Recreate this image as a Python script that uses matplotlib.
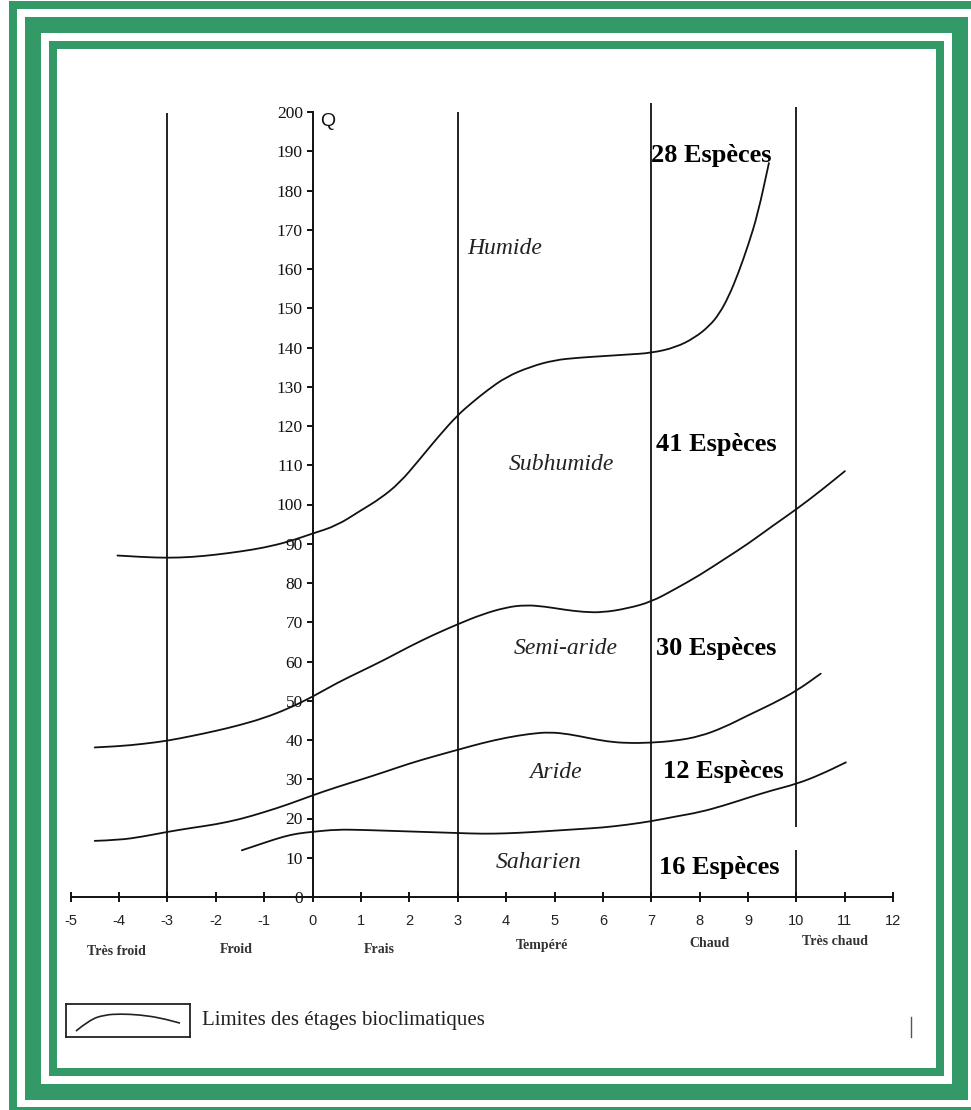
import matplotlib
matplotlib.use("Agg")
import matplotlib.pyplot as plt
from matplotlib.patches import Rectangle, PathPatch
from matplotlib.path import Path
from matplotlib.lines import Line2D

# ---------------- data ----------------
# Boundary curves (Emberger climagram): m (°C) -> Q
c1_x = [-4.03, -3.5, -3.0, -2.5, -2.0, -1.5, -1.0, -0.5, 0.0, 0.5, 1.0, 1.4, 1.8, 2.2, 2.6,
        3.0, 3.3, 3.6, 4.0, 4.5, 5.0, 5.5, 6.0, 6.5, 7.0, 7.5, 7.9, 8.2, 8.4, 8.6, 8.8, 9.0, 9.2, 9.43]
c1_y = [87.0, 86.6, 86.4, 86.6, 87.2, 88.0, 89.0, 90.5, 92.6, 94.6, 98.5, 101.5, 105.5, 111.3, 117.3,
        122.8, 126.0, 129.0, 132.5, 135.1, 136.8, 137.4, 137.8, 138.2, 138.6, 140.0, 142.5, 145.5, 148.5,
        153.0, 159.0, 166.0, 174.0, 187.0]

c2_x = [-4.5, -4.0, -3.5, -3.0, -2.5, -2.0, -1.5, -1.0, -0.5, 0.0, 0.5, 1.0, 1.5, 2.0, 2.5, 3.0,
        3.5, 4.0, 4.4, 4.8, 5.2, 5.6, 6.0, 6.5, 7.0, 7.5, 8.0, 8.5, 9.0, 9.5, 10.0, 10.5, 11.0]
c2_y = [38.1, 38.4, 39.0, 39.8, 41.0, 42.3, 43.8, 45.6, 48.0, 51.0, 54.5, 57.5, 60.5, 63.8, 66.8, 69.5,
        72.0, 73.8, 74.4, 74.0, 73.2, 72.6, 72.5, 73.5, 75.2, 78.5, 82.0, 86.0, 90.0, 94.5, 98.8, 103.5, 108.5]

c3_x = [-4.5, -4.0, -3.5, -3.0, -2.5, -2.0, -1.5, -1.0, -0.5, 0.0, 0.5, 1.0, 1.5, 2.0, 2.5, 3.0,
        3.5, 4.0, 4.5, 4.9, 5.3, 5.7, 6.1, 6.5, 7.0, 7.5, 8.0, 8.5, 9.0, 9.5, 10.0, 10.5]
c3_y = [14.3, 14.5, 15.4, 16.6, 17.6, 18.5, 19.8, 21.6, 23.6, 25.9, 28.0, 29.9, 31.9, 34.0, 35.8, 37.5,
        39.2, 40.6, 41.6, 42.0, 41.5, 40.5, 39.6, 39.2, 39.3, 39.8, 40.9, 43.2, 46.3, 49.2, 52.5, 56.9]

c4_x = [-1.46, -1.0, -0.6, -0.3, 0.0, 0.5, 1.0, 1.5, 2.0, 2.5, 3.0, 3.5, 4.0, 4.5, 5.0, 5.5, 6.0,
        6.5, 7.0, 7.5, 8.0, 8.5, 9.0, 9.5, 10.0, 10.5, 11.02]
c4_y = [11.9, 13.8, 15.4, 16.2, 16.6, 17.2, 17.1, 16.9, 16.7, 16.5, 16.3, 16.1, 16.2, 16.5, 16.9, 17.3,
        17.7, 18.4, 19.3, 20.5, 21.6, 23.3, 25.3, 27.2, 28.8, 31.2, 34.3]

# Thermal variants separators (vertical lines) and their top ends
sep_x = [-3, 3, 7, 10]
sep_top = [199.7, 200.0, 202.3, 201.3]

# Ticks
x_ticks = list(range(-5, 13))
y_ticks = list(range(0, 201, 10))

# Thermal variant names
variants = ["Très froid", "Froid", "Frais", "Tempéré", "Chaud", "Très chaud"]

# Bioclimatic zones and species counts
zones = ["Humide", "Subhumide", "Semi-aride", "Aride", "Saharien"]
species = [28, 41, 30, 12, 16]

# ---------------- layout (positions, not data) ----------------
W, H = 971, 1110
X0PX, XS = 312.5, 48.4      # pixel of m=0, px per unit
Y0PX, YS = 897.0, 3.925     # pixel of Q=0, px per unit
XL, XR = -6.0, 13.0
YB, YT = -25.0, 212.0

variant_pos = [(-4.05, -13.8), (-1.57, -13.3), (1.39, -13.3), (4.74, -12.3), (8.21, -11.8), (10.79, -11.3)]
zone_pos = [(3.97, 165.1), (5.14, 110.3), (5.23, 63.4), (5.02, 31.6), (4.67, 8.9)]
species_pos = [(7.0, 189.0), (7.1, 115.4), (7.1, 63.4), (7.25, 31.9), (7.16, 7.4)]

GREEN = "#339966"
INK = "#111111"
SERIF = ["Liberation Serif", "DejaVu Serif"]
SANS = ["Liberation Sans", "DejaVu Sans"]

fig = plt.figure(figsize=(W / 100, H / 100), dpi=100)
fig.patch.set_facecolor("white")


def px_rect(x1, y1, x2, y2, color):
    r = Rectangle((x1 / W, 1 - y2 / H), (x2 - x1) / W, (y2 - y1) / H,
                  transform=fig.transFigure, facecolor=color, edgecolor="none", zorder=-10)
    fig.add_artist(r)


# Decorative green frames
px_rect(9, 1, 1100, 1300, GREEN)
px_rect(17, 9, 1100, 1107, "white")
px_rect(25, 17, 968, 1100, GREEN)
px_rect(41, 33, 952, 1084, "white")
px_rect(49, 41, 944, 1076, GREEN)
px_rect(57, 49, 936, 1068, "white")

# Main axes placed so that data units map to reference pixels
left_px = X0PX + XL * XS
right_px = X0PX + XR * XS
top_px = Y0PX - YT * YS
bot_px = Y0PX - YB * YS
ax = fig.add_axes([left_px / W, 1 - bot_px / H, (right_px - left_px) / W, (bot_px - top_px) / H])
ax.patch.set_visible(False)
ax.set_xlim(XL, XR)
ax.set_ylim(YB, YT)

for s in ["top", "right"]:
    ax.spines[s].set_visible(False)
ax.spines["left"].set_position(("data", 0))
ax.spines["bottom"].set_position(("data", 0))
ax.spines["left"].set_bounds(0, 200)
ax.spines["bottom"].set_bounds(-5, 12)
for s in ["left", "bottom"]:
    ax.spines[s].set_linewidth(1.4)
    ax.spines[s].set_color(INK)

ax.set_xticks(x_ticks)
ax.set_xticklabels([str(v) for v in x_ticks], fontfamily=SANS, fontsize=10.5, color="#222222")
ax.set_yticks(y_ticks)
ax.set_yticklabels([str(v) for v in y_ticks], fontfamily=SERIF, fontsize=12.5, color=INK)
ax.tick_params(axis="x", direction="inout", length=7, width=1.4, pad=9, color=INK)
ax.tick_params(axis="y", direction="out", length=4, width=1.4, pad=3, color=INK)

# Vertical separators
for xv, top in zip(sep_x, sep_top):
    ax.plot([xv, xv], [0, top], color=INK, lw=1.3, solid_capstyle="butt", zorder=2)

# white patch (erased area in the scan) interrupting the x=10 line
ax.add_patch(Rectangle((8.6, 12.0), 2.15, 5.8, facecolor="white", edgecolor="none", zorder=3))


def smooth_curve(xs, ys):
    """Quadratic-Bezier path through the read points (drawn smoothly by matplotlib)."""
    pts = list(zip(xs, ys))
    verts = [pts[0]]
    codes = [Path.MOVETO]
    for i in range(1, len(pts) - 1):
        mx = (pts[i][0] + pts[i + 1][0]) / 2
        my = (pts[i][1] + pts[i + 1][1]) / 2
        verts += [pts[i], (mx, my)]
        codes += [Path.CURVE3, Path.CURVE3]
    verts.append(pts[-1])
    codes.append(Path.LINETO)
    return Path(verts, codes)


# Boundary curves
for cx, cy in [(c1_x, c1_y), (c2_x, c2_y), (c3_x, c3_y), (c4_x, c4_y)]:
    ax.add_patch(PathPatch(smooth_curve(cx, cy), facecolor="none", edgecolor=INK, lw=1.3,
                           joinstyle="round", capstyle="round", zorder=4))

# Axis label Q
ax.text(0.15, 197.5, "Q", fontfamily=SANS, fontsize=14, ha="left", va="center", color=INK)

# Thermal variant names
for name, (xv, yv) in zip(variants, variant_pos):
    ax.text(xv, yv, name, fontfamily=SERIF, fontsize=10, fontweight="bold", color="#333333",
            ha="center", va="center")

# Zone names
for name, (xv, yv) in zip(zones, zone_pos):
    ax.text(xv, yv, name, fontfamily=SERIF, fontsize=17, fontstyle="italic", color="#222222",
            ha="center", va="center", zorder=5)

# Species counts
for n, (xv, yv) in zip(species, species_pos):
    ax.text(xv, yv, f"{n} Espèces", fontfamily=SERIF, fontsize=19, fontweight="bold", color="black",
            ha="left", va="center", zorder=5)

# Legend: framed curve sample + text
lx1, ly1, lx2, ly2 = 66, 1004, 190, 1037
lax = fig.add_axes([lx1 / W, 1 - ly2 / H, (lx2 - lx1) / W, (ly2 - ly1) / H])
lax.set_xlim(0, 1)
lax.set_ylim(0, 1)
lax.set_xticks([])
lax.set_yticks([])
for s in lax.spines.values():
    s.set_linewidth(1.3)
    s.set_color("#222222")
sample_x = [0.08, 0.19, 0.31, 0.44, 0.6, 0.76, 0.92]
sample_y = [0.18, 0.52, 0.67, 0.70, 0.67, 0.58, 0.42]
lax.add_patch(PathPatch(smooth_curve(sample_x, sample_y), facecolor="none", edgecolor="#222222", lw=1.2))
fig.text(202 / W, 1 - 1020 / H, "Limites des étages bioclimatiques", fontfamily=SERIF, fontsize=15,
         color="#222222", ha="left", va="center")

# small stray mark at the right
fig.add_artist(Line2D([911 / W, 911 / W], [1 - 1017 / H, 1 - 1037 / H], transform=fig.transFigure,
                      color="#555555", lw=1.0))

fig.savefig("out.png", dpi=100, facecolor="white")
